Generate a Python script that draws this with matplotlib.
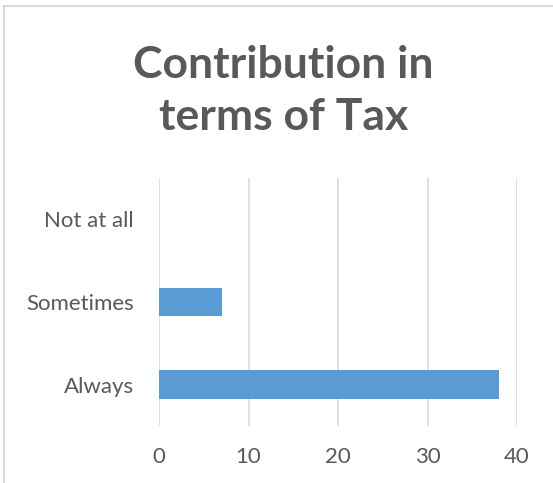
import matplotlib
matplotlib.use("Agg")
import matplotlib.pyplot as plt
from matplotlib.lines import Line2D

# Datos del gráfico
categorias = ["Always", "Sometimes", "Not at all"]
valores = [38, 7, 0]
ticks_x = [0, 10, 20, 30, 40]

plt.rcParams['font.family'] = ['Lato', 'DejaVu Sans']

gris_texto = '#595959'
gris_linea = '#d9d9d9'
azul = '#5b9bd5'

fig = plt.figure(figsize=(5.53, 4.83), dpi=100)
ax = fig.add_axes([0.2875, 0.118, 0.935 - 0.2875, 0.6315 - 0.118])

posiciones = list(range(len(categorias)))
ax.barh(posiciones, valores, height=0.35, color=azul, zorder=3)

ax.set_xlim(0, 40)
ax.set_ylim(-0.5, len(categorias) - 0.5)
ax.set_xticks(ticks_x)
ax.set_yticks(posiciones)
ax.set_yticklabels(categorias)

ax.grid(axis='x', color=gris_linea, linewidth=1.2, zorder=0)
for s in ax.spines.values():
    s.set_visible(False)
ax.tick_params(length=0, colors=gris_texto, labelsize=16)
ax.tick_params(axis='y', pad=18)
ax.tick_params(axis='x', pad=15)

# Título en dos líneas
fig.text(0.512, 0.812, "Contribution in\nterms of Tax", ha='center', va='center',
         fontsize=32, fontweight='bold', color=gris_texto, linespacing=1.35)

# Borde del área del gráfico (solo arriba e izquierda visibles)
fig.add_artist(Line2D([4 / 553, 1], [1 - 6 / 483, 1 - 6 / 483], color=gris_linea,
                      linewidth=1.5, transform=fig.transFigure))
fig.add_artist(Line2D([4 / 553, 4 / 553], [0, 1 - 6 / 483], color=gris_linea,
                      linewidth=1.5, transform=fig.transFigure))

fig.savefig("out.png", dpi=100)
